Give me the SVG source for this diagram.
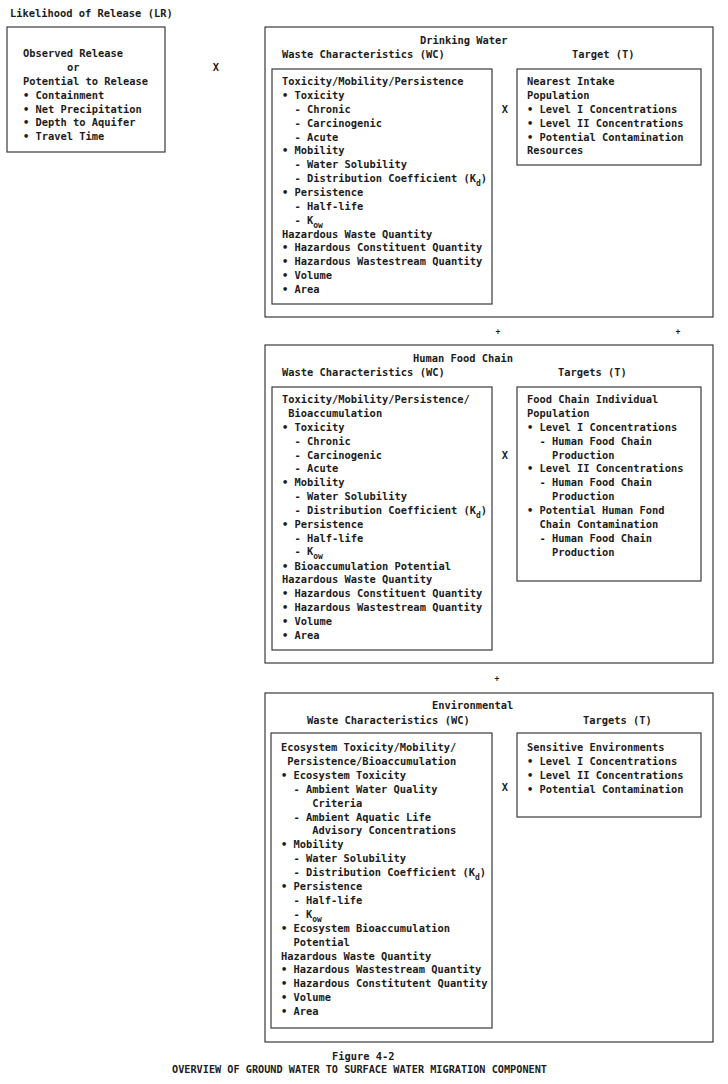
<svg xmlns="http://www.w3.org/2000/svg" width="728" height="1084" viewBox="0 0 728 1084">
  <style>
    text { font-family: "DejaVu Sans Mono", "Liberation Mono", monospace; font-size: 10.4px; font-weight: bold; fill: #1c1c1c; }
    .box { fill: none; stroke: #3a3a3a; stroke-width: 1.2; }
    .op { text-anchor: middle; }
    .mark { text-anchor: middle; font-size: 8px; }
    .sub { font-size: 8px; }
  </style>
  <rect width="728" height="1084" fill="#ffffff"/>

  <!-- Likelihood of Release -->
  <g id="likelihood-of-release">
    <text x="10" y="17">Likelihood of Release (LR)</text>
    <rect class="box" x="7" y="27" width="158" height="125"/>
    <text x="23" y="57">Observed Release</text>
    <text x="67" y="71">or</text>
    <text x="23" y="85">Potential to Release</text>
    <text x="23" y="99">• Containment</text>
    <text x="23" y="113">• Net Precipitation</text>
    <text x="23" y="126">• Depth to Aquifer</text>
    <text x="23" y="140">• Travel Time</text>
  </g>

  <!-- Drinking Water threat -->
  <g id="drinking-water">
    <rect class="box" x="265" y="27" width="448" height="290"/>
    <text x="420" y="44">Drinking Water</text>
    <text x="282" y="58">Waste Characteristics (WC)</text>
    <text x="572" y="58">Target (T)</text>
  </g>
  <g id="dw-waste-characteristics">
    <rect class="box" x="272" y="69" width="220" height="235"/>
    <text x="282" y="85">Toxicity/Mobility/Persistence</text>
    <text x="282" y="98.9">• Toxicity</text>
    <text x="294.5" y="112.7">- Chronic</text>
    <text x="294.5" y="126.6">- Carcinogenic</text>
    <text x="294.5" y="140.5">- Acute</text>
    <text x="282" y="154.4">• Mobility</text>
    <text x="294.5" y="168.2">- Water Solubility</text>
    <text x="294.5" y="182.1">- Distribution Coefficient (K<tspan class="sub" dy="4">d</tspan><tspan dy="-4">)</tspan></text>
    <text x="282" y="196">• Persistence</text>
    <text x="294.5" y="209.8">- Half-life</text>
    <text x="294.5" y="223.7">- K<tspan class="sub" dy="4">ow</tspan></text>
    <text x="282" y="237.6">Hazardous Waste Quantity</text>
    <text x="282" y="251.4">• Hazardous Constituent Quantity</text>
    <text x="282" y="265.3">• Hazardous Wastestream Quantity</text>
    <text x="282" y="279.2">• Volume</text>
    <text x="282" y="293">• Area</text>
  </g>
  <g id="dw-target">
    <rect class="box" x="517" y="69" width="184" height="96"/>
    <text x="527" y="85">Nearest Intake</text>
    <text x="527" y="98.9">Population</text>
    <text x="527" y="112.7">• Level I Concentrations</text>
    <text x="527" y="126.6">• Level II Concentrations</text>
    <text x="527" y="140.5">• Potential Contamination</text>
    <text x="527" y="154.4">Resources</text>
  </g>

  <!-- Human Food Chain threat -->
  <g id="human-food-chain">
    <rect class="box" x="265" y="345" width="448" height="318"/>
    <text x="413" y="362">Human Food Chain</text>
    <text x="282" y="376">Waste Characteristics (WC)</text>
    <text x="558" y="376">Targets (T)</text>
  </g>
  <g id="hfc-waste-characteristics">
    <rect class="box" x="272" y="387" width="220" height="263"/>
    <text x="282" y="403">Toxicity/Mobility/Persistence/</text>
    <text x="288.3" y="416.9">Bioaccumulation</text>
    <text x="282" y="430.7">• Toxicity</text>
    <text x="294.5" y="444.6">- Chronic</text>
    <text x="294.5" y="458.5">- Carcinogenic</text>
    <text x="294.5" y="472.4">- Acute</text>
    <text x="282" y="486.2">• Mobility</text>
    <text x="294.5" y="500.1">- Water Solubility</text>
    <text x="294.5" y="514">- Distribution Coefficient (K<tspan class="sub" dy="4">d</tspan><tspan dy="-4">)</tspan></text>
    <text x="282" y="527.8">• Persistence</text>
    <text x="294.5" y="541.7">- Half-life</text>
    <text x="294.5" y="555.2">- K<tspan class="sub" dy="3.5">ow</tspan></text>
    <text x="282" y="569.6">• Bioaccumulation Potential</text>
    <text x="282" y="583.3">Hazardous Waste Quantity</text>
    <text x="282" y="597.2">• Hazardous Constituent Quantity</text>
    <text x="282" y="611">• Hazardous Wastestream Quantity</text>
    <text x="282" y="624.9">• Volume</text>
    <text x="282" y="638.8">• Area</text>
  </g>
  <g id="hfc-targets">
    <rect class="box" x="517" y="387" width="184" height="194"/>
    <text x="527" y="403">Food Chain Individual</text>
    <text x="527" y="416.9">Population</text>
    <text x="527" y="430.7">• Level I Concentrations</text>
    <text x="539.5" y="444.6">- Human Food Chain</text>
    <text x="552" y="458.5">Production</text>
    <text x="527" y="472.4">• Level II Concentrations</text>
    <text x="539.5" y="486.2">- Human Food Chain</text>
    <text x="552" y="500.1">Production</text>
    <text x="527" y="514">• Potential Human Fond</text>
    <text x="539.5" y="527.8">Chain Contamination</text>
    <text x="539.5" y="541.7">- Human Food Chain</text>
    <text x="552" y="555.6">Production</text>
  </g>

  <!-- Environmental threat -->
  <g id="environmental">
    <rect class="box" x="265" y="693" width="448" height="349"/>
    <text x="432" y="709">Environmental</text>
    <text x="307" y="724">Waste Characteristics (WC)</text>
    <text x="583" y="724">Targets (T)</text>
  </g>
  <g id="env-waste-characteristics">
    <rect class="box" x="271" y="733" width="221" height="295"/>
    <text x="281" y="751">Ecosystem Toxicity/Mobility/</text>
    <text x="287.3" y="764.9">Persistence/Bioaccumulation</text>
    <text x="281" y="778.8">• Ecosystem Toxicity</text>
    <text x="293.5" y="792.7">- Ambient Water Quality</text>
    <text x="312.3" y="806.6">Criteria</text>
    <text x="293.5" y="820.5">- Ambient Aquatic Life</text>
    <text x="312.3" y="834.4">Advisory Concentrations</text>
    <text x="281" y="848.3">• Mobility</text>
    <text x="293.5" y="862.2">- Water Solubility</text>
    <text x="293.5" y="876.1">- Distribution Coefficient (K<tspan class="sub" dy="4">d</tspan><tspan dy="-4">)</tspan></text>
    <text x="281" y="890">• Persistence</text>
    <text x="293.5" y="903.9">- Half-life</text>
    <text x="293.5" y="917.8">- K<tspan class="sub" dy="4">ow</tspan></text>
    <text x="281" y="931.7">• Ecosystem Bioaccumulation</text>
    <text x="293.5" y="945.6">Potential</text>
    <text x="281" y="959.5">Hazardous Waste Quantity</text>
    <text x="281" y="973.4">• Hazardous Wastestream Quantity</text>
    <text x="281" y="987.3">• Hazardous Constitutent Quantity</text>
    <text x="281" y="1001.2">• Volume</text>
    <text x="281" y="1015.1">• Area</text>
  </g>
  <g id="env-targets">
    <rect class="box" x="517" y="733" width="184" height="84"/>
    <text x="527" y="751">Sensitive Environments</text>
    <text x="527" y="764.9">• Level I Concentrations</text>
    <text x="527" y="778.8">• Level II Concentrations</text>
    <text x="527" y="792.7">• Potential Contamination</text>
  </g>

  <!-- Operators linking the factor categories -->
  <g id="connectors">
    <text class="op" x="216" y="71">X</text>
    <text class="op" x="505" y="113">X</text>
    <text class="op" x="505" y="458.5">X</text>
    <text class="op" x="505" y="791">X</text>
    <text class="mark" x="498" y="334">+</text>
    <text class="mark" x="678" y="334">+</text>
    <text class="mark" x="497" y="681">+</text>
  </g>

  <!-- Caption -->
  <g id="caption">
    <text x="332" y="1060">Figure 4-2</text>
    <text x="172" y="1073" textLength="375" lengthAdjust="spacingAndGlyphs">OVERVIEW OF GROUND WATER TO SURFACE WATER MIGRATION COMPONENT</text>
  </g>
</svg>
